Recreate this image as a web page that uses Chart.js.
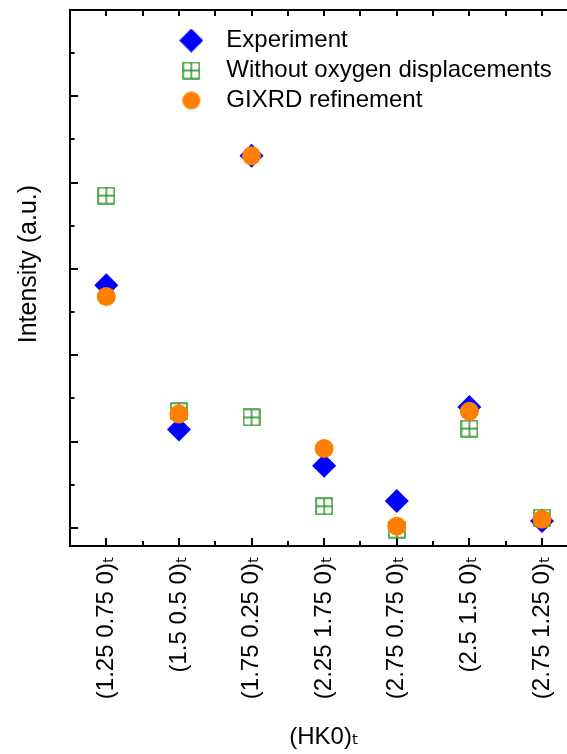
<!DOCTYPE html>
<html>
<head>
<meta charset="utf-8">
<script src="https://cdn.jsdelivr.net/npm/chart.js@4.4.1/dist/chart.umd.min.js"></script>
<style>
  html, body { margin: 0; padding: 0; background: #fff; overflow: hidden; }
</style>
</head>
<body>
<canvas id="chart" width="600" height="754"></canvas>
<script>
// reflections along the bottom axis
const reflections = [
  '(1.25 0.75 0)ₜ',
  '(1.5 0.5 0)ₜ',
  '(1.75 0.25 0)ₜ',
  '(2.25 1.75 0)ₜ',
  '(2.75 0.75 0)ₜ',
  '(2.5 1.5 0)ₜ',
  '(2.75 1.25 0)ₜ',
];

// intensities in arbitrary units (one unit = one major tick)
const experiment = [2.81, 1.14, 4.31, 0.72, 0.31, 1.40, 0.08];
const withoutOxygen = [3.85, 1.35, 1.28, 0.25, -0.02, 1.15, 0.12];
const gixrd = [2.68, 1.32, 4.31, 0.92, 0.02, 1.35, 0.10];

const seriesNames = ['Experiment', 'Without oxygen displacements', 'GIXRD refinement'];

const blue = '#0000ff';
const green = '#1f8f1f';
const orange = '#ff7f00';

Chart.defaults.font.family = "'Liberation Sans', Arial, 'DejaVu Sans', sans-serif";
Chart.defaults.color = '#000';

const makeIcon = (size, paint) => {
  const c = document.createElement('canvas');
  c.width = size;
  c.height = size;
  paint(c.getContext('2d'), size);
  return c;
};

const squareCross = makeIcon(18, (g, s) => {
  g.strokeStyle = green;
  g.lineWidth = 1.4;
  g.strokeRect(1, 1, s - 2, s - 2);
  g.beginPath();
  g.moveTo(s / 2, 1);
  g.lineTo(s / 2, s - 1);
  g.moveTo(1, s / 2);
  g.lineTo(s - 1, s / 2);
  g.stroke();
});

const legendIcons = [
  makeIcon(24, (g, s) => {
    g.fillStyle = blue;
    g.beginPath();
    g.moveTo(s / 2, 0);
    g.lineTo(s, s / 2);
    g.lineTo(s / 2, s);
    g.lineTo(0, s / 2);
    g.closePath();
    g.fill();
  }),
  squareCross,
  makeIcon(20, (g, s) => {
    g.fillStyle = orange;
    g.beginPath();
    g.arc(s / 2, s / 2, 9, 0, Math.PI * 2);
    g.fill();
  }),
];

const toPoints = (values) => values.map((v, i) => ({ x: i, y: v }));

// half-step ticks on x, half-unit ticks on y
const xTicks = [];
reflections.forEach((_, i) => {
  if (i > 0) xTicks.push(i - 0.5);
  xTicks.push(i);
});
const yTicks = [];
for (let v = 0; v <= 5.5; v += 0.5) yTicks.push(v);

// put the legend inside the frame, like the original
const legendSpot = {
  id: 'legendSpot',
  afterLayout(chart) {
    const lg = chart.legend;
    const area = chart.chartArea;
    lg.left = 162.3;
    lg.top = 22.5;
    lg.right = area.right;
    lg.bottom = area.bottom;
  },
};

new Chart(document.getElementById('chart'), {
  type: 'scatter',
  data: {
    datasets: [
      {
        label: seriesNames[0],
        data: toPoints(experiment),
        pointStyle: 'rectRot',
        pointRadius: 12,
        pointHoverRadius: 12,
        backgroundColor: blue,
        borderWidth: 0,
        order: 2,
      },
      {
        label: seriesNames[1],
        data: toPoints(withoutOxygen),
        pointStyle: squareCross,
        pointRadius: 9,
        backgroundColor: green,
        borderColor: green,
        order: 1,
      },
      {
        label: seriesNames[2],
        data: toPoints(gixrd),
        pointStyle: 'circle',
        pointRadius: 9.5,
        pointHoverRadius: 9.5,
        backgroundColor: orange,
        borderWidth: 0,
        order: 0,
      },
    ],
  },
  options: {
    responsive: false,
    animation: false,
    layout: { autoPadding: false, padding: { left: 0, top: 10, right: 21.7, bottom: 0 } },
    plugins: {
      tooltip: { enabled: false },
      legend: {
        position: 'chartArea',
        align: 'start',
        labels: {
          usePointStyle: true,
          pointStyleWidth: 46,
          padding: 6,
          color: '#000',
          font: { size: 24 },
          sort: (a, b) => a.datasetIndex - b.datasetIndex,
          generateLabels: (chart) => {
            const items = Chart.defaults.plugins.legend.labels.generateLabels(chart);
            items.forEach((it) => {
              it.pointStyle = legendIcons[it.datasetIndex];
            });
            return items;
          },
        },
      },
    },
    scales: {
      x: {
        type: 'linear',
        position: 'bottom',
        min: -0.5,
        max: 6.5,
        afterBuildTicks: (s) => { s.ticks = xTicks.map((v) => ({ value: v })); },
        afterFit: (s) => { s.height = 208; },
        ticks: {
          autoSkip: false,
          minRotation: 90,
          maxRotation: 90,
          padding: 10,
          color: '#000',
          font: { size: 24 },
          callback: (v) => (Number.isInteger(v) ? reflections[v] : ''),
        },
        grid: { drawTicks: false, color: '#000', lineWidth: 2 },
        border: {
          display: true,
          color: '#000',
          width: 2,
          dash: (c) => {
            if (!c.tick || !c.chart.chartArea) return [];
            const area = c.chart.chartArea;
            const major = Number.isInteger(c.tick.value);
            const top = 6;
            const bot = major ? 7 : 4;
            const len = area.bottom - 1 - area.top;
            return [top, len - top - bot, bot, 3000];
          },
        },
        title: {
          display: true,
          text: '(HK0)ₜ',
          color: '#000',
          font: { size: 24 },
          padding: { top: 0, bottom: 2 },
        },
      },
      xTop: {
        type: 'linear',
        position: 'top',
        min: -0.5,
        max: 6.5,
        afterFit: (s) => { s.height = 0; },
        ticks: { display: false },
        grid: { display: false, drawTicks: false },
        border: { display: true, color: '#000', width: 2 },
      },
      y: {
        type: 'linear',
        position: 'left',
        min: -0.21,
        max: 6,
        afterBuildTicks: (s) => { s.ticks = yTicks.map((v) => ({ value: v })); },
        afterFit: (s) => { s.width = 70; },
        ticks: { display: false },
        grid: { drawTicks: false, color: '#000', lineWidth: 2 },
        border: {
          display: true,
          color: '#000',
          width: 2,
          dash: (c) => {
            if (!c.tick) return [];
            return [Number.isInteger(c.tick.value) ? 7 : 3.5, 5000];
          },
        },
        title: {
          display: true,
          text: '    Intensity (a.u.)',
          color: '#000',
          font: { size: 25 },
          padding: { top: 14.5, bottom: 0 },
        },
      },
    },
  },
  plugins: [legendSpot],
});
</script>
</body>
</html>
